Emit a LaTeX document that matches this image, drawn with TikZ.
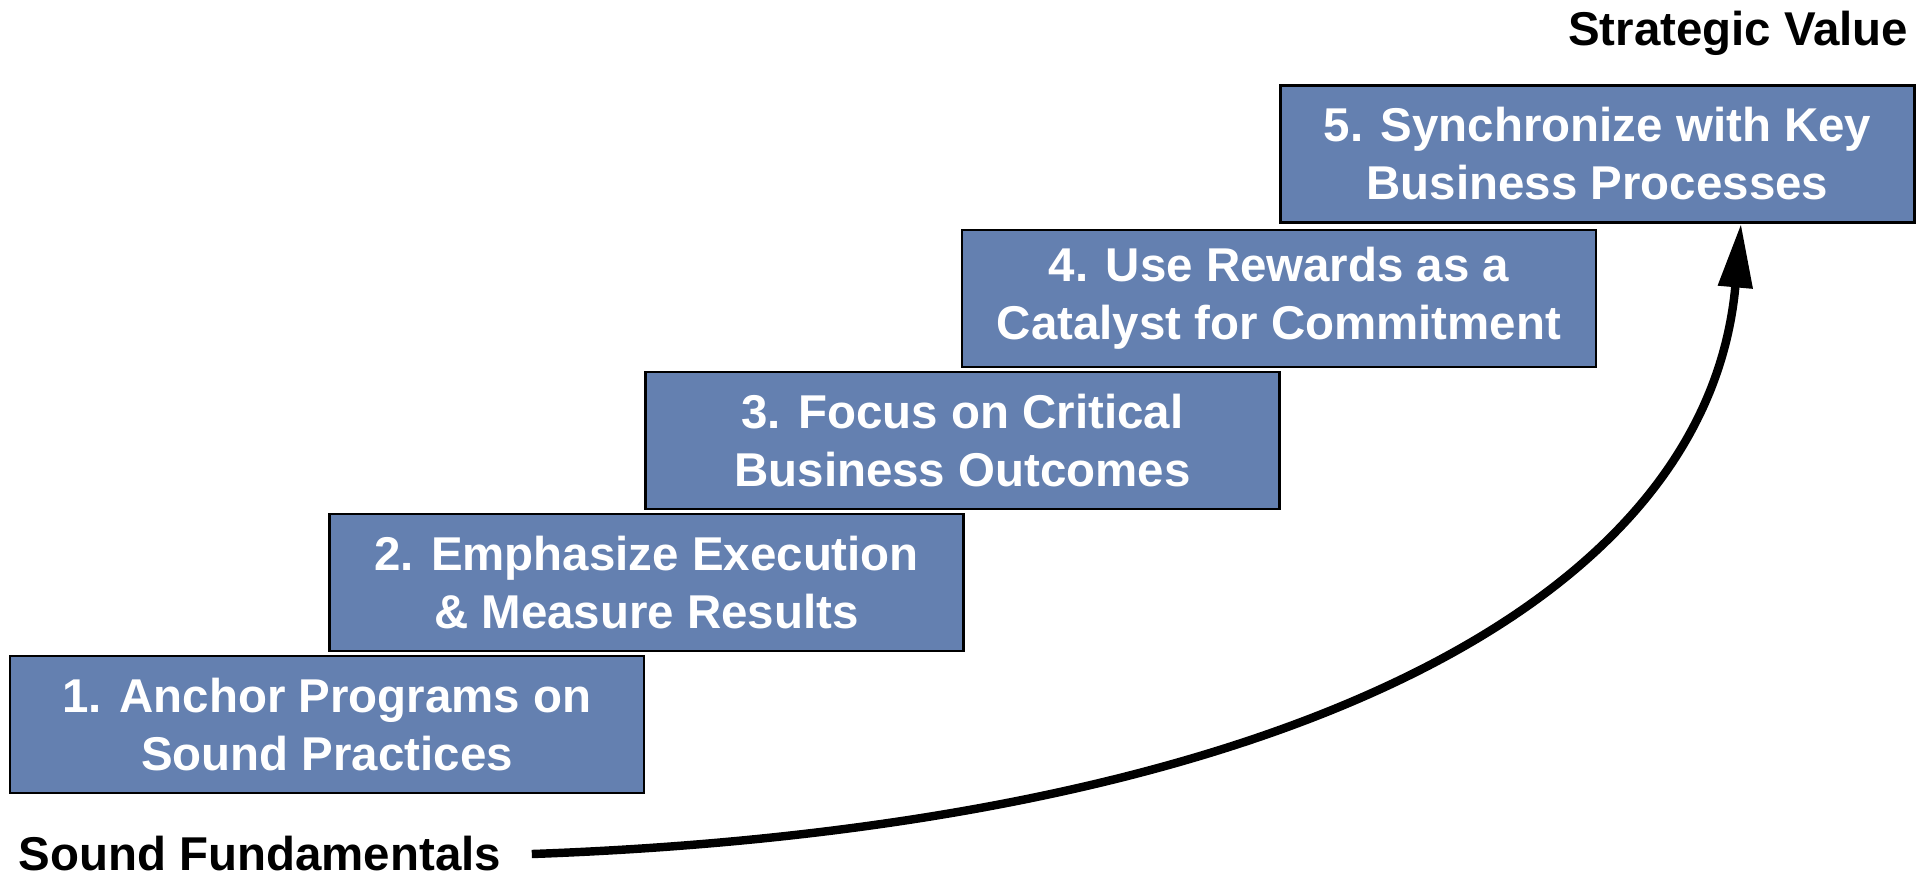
\documentclass[tikz,border=0pt]{standalone}
\usepackage{fontspec}
\setmainfont{Liberation Sans}
\usetikzlibrary{arrows.meta}

\definecolor{stepblue}{RGB}{100,128,176}

\begin{document}
\begin{tikzpicture}[
    stepbox/.style={draw=black, line width=0.6pt, fill=stepblue, text=white,
        minimum width=6.34cm, minimum height=1.37cm, inner sep=0pt,
        align=center, font=\fontsize{13.5}{16.5}\selectfont\bfseries},
    endlabel/.style={font=\fontsize{13.5}{16.5}\selectfont\bfseries, inner sep=0pt}
]

    % --- Canvas ---
    \useasboundingbox (0,0) rectangle (19.31,8.76);

    % --- Staircase of steps ---
    % Each step is shifted about 3.175 right and 1.425 up from the one below
    \node[stepbox] (S1) at (3.27, 1.515)  {1. Anchor Programs on\\Sound Practices};
    \node[stepbox] (S2) at (6.465, 2.935) {2. Emphasize Execution\\\& Measure Results};
    \node[stepbox] (S3) at (9.625, 4.355) {3. Focus on Critical\\Business Outcomes};
    \node[stepbox] (S4) at (12.79, 5.775) {4. Use Rewards as a\\Catalyst for Commitment};
    \node[stepbox] (S5) at (15.975, 7.22) {5. Synchronize with Key\\Business Processes};

    % --- Labels at both ends ---
    \node[endlabel, anchor=base west] (low) at (0.18, 0.05) {Sound Fundamentals};
    \node[endlabel, anchor=base east] (high) at (19.09, 8.30) {Strategic Value};

    % --- Rising arrow ---
    % Tip touches the bottom edge of the last step, right of its centre
    \coordinate (tip) at ([xshift=1.435cm]S5.south);
    \draw[line width=2.4pt, -{Triangle[length=6.4mm, width=3.3mm]}]
        ([xshift=3mm]low.east) .. controls +(7,0.25) and +(-0.36,-4) .. (tip);

\end{tikzpicture}
\end{document}
